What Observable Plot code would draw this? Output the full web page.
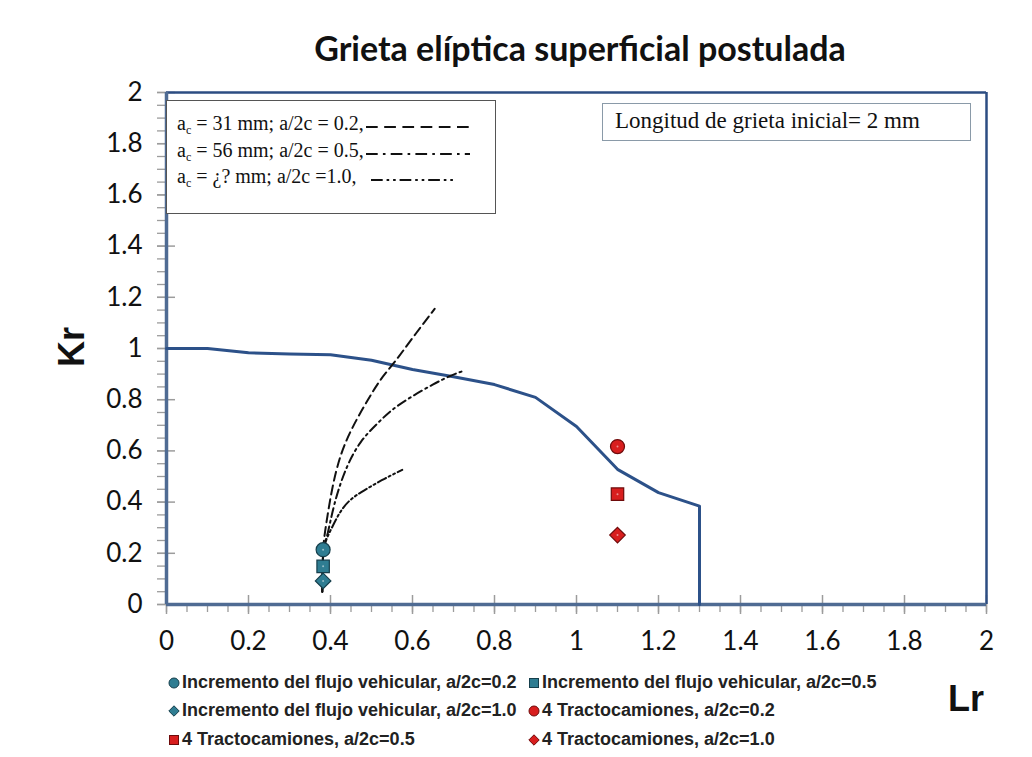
<!DOCTYPE html>
<html><head><meta charset="utf-8">
<script src="https://cdn.jsdelivr.net/npm/d3@7"></script>
<script src="https://cdn.jsdelivr.net/npm/@observablehq/plot@0.6"></script>
<style>
body{margin:0;background:#fff;}
#page{position:relative;width:1032px;height:757px;overflow:hidden;background:#fff;}
#title{position:absolute;left:170px;top:27px;width:820px;text-align:center;font:bold 34px Lato, "Open Sans", sans-serif;color:#111;}
#chart{position:absolute;left:0;top:70px;}
.box{position:absolute;background:#fff;border:1px solid #555;font-family:"Liberation Serif","DejaVu Serif",serif;color:#111;}
.box sub{font-size:12px;vertical-align:-4px;}
.row{position:absolute;left:10px;white-space:nowrap;font-size:20px;}
.lsamp{position:absolute;}
#kr{position:absolute;left:52px;top:326px;transform:rotate(-90deg);font:bold 36px "Liberation Sans",Arial,sans-serif;color:#111;}
#lr{position:absolute;left:948px;top:678px;font:bold 36px "Liberation Sans",Arial,sans-serif;color:#111;}
#leg{position:absolute;left:168px;top:672px;font:bold 18px "Liberation Sans Narrow","Liberation Sans",Arial,sans-serif;color:#222;}
.li{position:absolute;white-space:nowrap;display:flex;align-items:center;}
.li svg{margin-right:2px;}
</style></head>
<body><div id="page">
<div id="title">Grieta elíptica superficial postulada</div>
<div id="chart"></div>
<div id="kr">Kr</div>
<div id="lr">Lr</div>
<div id="leg"></div>
</div>
<script>
// ---- data ----
const xTicks = [0, 0.2, 0.4, 0.6, 0.8, 1, 1.2, 1.4, 1.6, 1.8, 2];
const yTicks = [0, 0.2, 0.4, 0.6, 0.8, 1, 1.2, 1.4, 1.6, 1.8, 2];

// Failure assessment diagram line
const fadLr = [0, 0.1, 0.2, 0.3, 0.4, 0.5, 0.6, 0.7, 0.8, 0.9, 1.0, 1.1, 1.2, 1.3, 1.3];
const fadKr = [1.0, 1.0, 0.983, 0.979, 0.976, 0.954, 0.918, 0.89, 0.859, 0.809, 0.695, 0.528, 0.437, 0.384, 0];

// crack growth paths
const path02Lr = [0.38, 0.381, 0.384, 0.392, 0.404, 0.424, 0.453, 0.49, 0.522, 0.554, 0.595, 0.654];
const path02Kr = [0.05, 0.2, 0.257, 0.341, 0.458, 0.589, 0.693, 0.797, 0.882, 0.94, 1.031, 1.155];
const path05Lr = [0.38, 0.381, 0.386, 0.392, 0.408, 0.437, 0.473, 0.514, 0.546, 0.595, 0.652, 0.693, 0.727];
const path05Kr = [0.05, 0.2, 0.245, 0.263, 0.393, 0.536, 0.641, 0.706, 0.758, 0.81, 0.862, 0.895, 0.914];
const path10Lr = [0.38, 0.381, 0.388, 0.40, 0.424, 0.449, 0.481, 0.522, 0.575];
const path10Kr = [0.05, 0.2, 0.25, 0.289, 0.367, 0.413, 0.445, 0.484, 0.526];

const legendRows = ["31 mm; a/2c = 0.2,", "56 mm; a/2c = 0.5,", "¿? mm; a/2c =1.0,"];
const infoText = "Longitud de grieta inicial= 2 mm";

// points
const pointNames = [
  "Incremento del flujo vehicular, a/2c=0.2",
  "Incremento del flujo vehicular, a/2c=0.5",
  "Incremento del flujo vehicular, a/2c=1.0",
  "4 Tractocamiones, a/2c=0.2",
  "4 Tractocamiones, a/2c=0.5",
  "4 Tractocamiones, a/2c=1.0"
];
const pointLr = [0.382, 0.382, 0.382, 1.1, 1.1, 1.1];
const pointKr = [0.214, 0.149, 0.092, 0.617, 0.431, 0.271];

// ---- styles ----
const dashes = ["9,5", "9,4,2,4", "9,3,2,3,2,3"];
const symbols = ["circle", "square", "diamond2", "circle", "square", "diamond2"];
const fills = ["#2f7d92", "#2f7d92", "#2f7d92", "#d81e1e", "#d81e1e", "#d81e1e"];
const strokes = ["#163f4c", "#163f4c", "#163f4c", "#6e0b0b", "#6e0b0b", "#6e0b0b"];

const fad = fadLr.map((x, i) => ({x, y: fadKr[i]}));
const paths = [[path02Lr, path02Kr], [path05Lr, path05Kr], [path10Lr, path10Kr]]
  .map(([xs, ys]) => xs.map((x, i) => ({x, y: ys[i]})));
const points = pointNames.map((name, i) => ({name, x: pointLr[i], y: pointKr[i], i}));

const minor = d3.range(0, 2.0001, 0.05);
const fmt = d => String(+(+d).toFixed(1));
const gray = "#9c9c9c";

const plot = Plot.plot({
  width: 1032, height: 590,
  marginLeft: 166, marginRight: 46, marginTop: 22, marginBottom: 56,
  x: {domain: [0, 2], axis: null},
  y: {domain: [0, 2], axis: null},
  style: {fontFamily: "Lato, 'Open Sans', sans-serif", background: "#fff", color: "#111"},
  marks: [
    Plot.tickX(minor, {x: d => d, insetTop: 512, insetBottom: -8, stroke: gray, strokeWidth: 1.3}),
    Plot.tickX(xTicks, {x: d => d, insetTop: 503, insetBottom: -10, stroke: gray, strokeWidth: 1.5}),
    Plot.tickY(minor, {y: d => d, insetLeft: -9, insetRight: 820, stroke: gray, strokeWidth: 1.3}),
    Plot.tickY(yTicks, {y: d => d, insetLeft: -9, insetRight: 811, stroke: gray, strokeWidth: 1.5}),
    Plot.axisX(xTicks, {anchor: "bottom", tickSize: 0, tickPadding: 27, fontSize: 26, tickFormat: fmt, label: null}),
    Plot.axisY(yTicks, {anchor: "left", tickSize: 0, tickPadding: 24, fontSize: 26, tickFormat: fmt, label: null}),
    Plot.ruleY([2], {stroke: "#2c4d82", strokeWidth: 2.5}),
    Plot.ruleX([2], {stroke: "#2c4d82", strokeWidth: 2.5}),
    Plot.ruleX([0], {stroke: "#4f6b93", strokeWidth: 3.5}),
    Plot.ruleY([0], {stroke: "#4f6b93", strokeWidth: 3.5}),
    Plot.line(fad, {x: "x", y: "y", stroke: "#2c5189", strokeWidth: 3}),
    ...paths.map((p, k) => Plot.line(p, {x: "x", y: "y", curve: "basis", stroke: "#111", strokeWidth: 2, strokeDasharray: dashes[k]})),
    ...points.map(p => Plot.dot([p], {x: "x", y: "y", r: 7, symbol: symbols[p.i], fill: fills[p.i], stroke: strokes[p.i], strokeWidth: 1.2})),
    ...points.map(p => Plot.dot([p], {x: "x", y: "y", r: 1.0, fill: "#ffffff", fillOpacity: 0.5, stroke: null}))
  ]
});
document.getElementById("chart").appendChild(plot);

// ---- inner legend box (crack paths) ----
const page = document.getElementById("page");
const box = document.createElement("div");
box.className = "box";
Object.assign(box.style, {left: "166px", top: "100px", width: "328px", height: "112px", borderColor: "#555"});
const sampW = [104, 104, 82];
legendRows.forEach((t, k) => {
  const r = document.createElement("div");
  r.className = "row";
  r.style.top = (11 + k * 26.5) + "px";
  r.innerHTML = "a<sub>c</sub> = " + t;
  box.appendChild(r);
  const s = document.createElementNS("http://www.w3.org/2000/svg", "svg");
  s.setAttribute("class", "lsamp");
  s.setAttribute("width", sampW[k]); s.setAttribute("height", 10);
  s.style.top = (21 + k * 26.5) + "px";
  s.innerHTML = `<line x1="0" y1="5" x2="${sampW[k]}" y2="5" stroke="#111" stroke-width="2" stroke-dasharray="${dashes[k].split(',').map(v => +v * 1.3).join(',')}"/>`;
  box.appendChild(s);
});
page.appendChild(box);
box.querySelectorAll(".row").forEach((r, k) => {
  const s = box.querySelectorAll(".lsamp")[k];
  s.style.left = (r.offsetLeft + r.offsetWidth + (k === 2 ? 14 : 2)) + "px";
});

const info = document.createElement("div");
info.className = "box";
Object.assign(info.style, {left: "602px", top: "103px", width: "367px", height: "36px", borderColor: "#8a9aa8"});
info.innerHTML = '<div class="row" style="top:4px;left:12px;font-size:23px">' + infoText + '</div>';
page.appendChild(info);

// ---- bottom legend ----
const leg = document.getElementById("leg");
const legPos = [[0, 0], [360, 0], [0, 28], [360, 28], [0, 57], [360, 57]];
function symSvg(i) {
  const sz = 12, c = 6;
  let shape;
  if (symbols[i] === "circle") shape = `<circle cx="${c}" cy="${c}" r="5" fill="${fills[i]}" stroke="${strokes[i]}" stroke-width="1"/>`;
  else if (symbols[i] === "square") shape = `<rect x="1.5" y="1.5" width="9" height="9" fill="${fills[i]}" stroke="${strokes[i]}" stroke-width="1"/>`;
  else shape = `<path d="M6,0.8L11.2,6L6,11.2L0.8,6Z" fill="${fills[i]}" stroke="${strokes[i]}" stroke-width="1"/>`;
  return `<svg width="${sz}" height="${sz}">${shape}</svg>`;
}
pointNames.forEach((n, i) => {
  const d = document.createElement("div");
  d.className = "li";
  d.style.left = legPos[i][0] + "px"; d.style.top = legPos[i][1] + "px";
  d.innerHTML = symSvg(i) + "<span>" + n + "</span>";
  leg.appendChild(d);
});
</script>
</body></html>
